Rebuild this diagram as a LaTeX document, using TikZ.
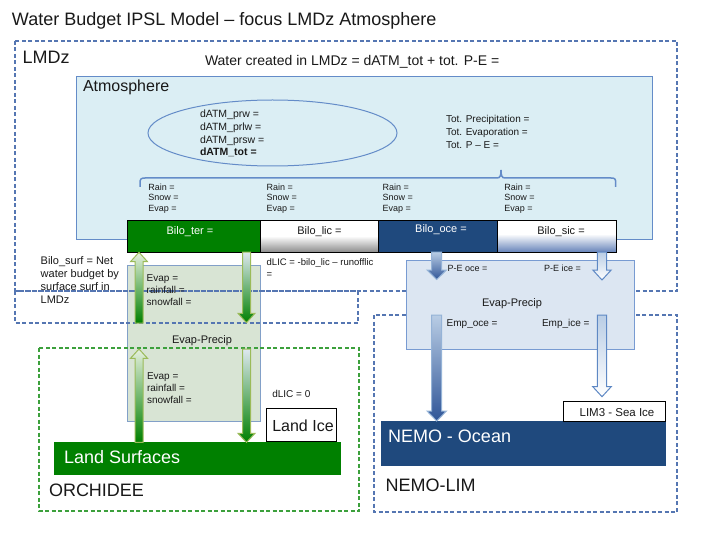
\documentclass[tikz,border=0pt]{standalone}
\usepackage{fontspec}
\setmainfont{Liberation Sans}
\usetikzlibrary{shapes.geometric}
\definecolor{dashblue}{RGB}{85,118,178}
\definecolor{atmfill}{RGB}{219,238,244}
\definecolor{atmline}{RGB}{100,140,200}
\definecolor{lgreen}{RGB}{0,128,0}
\definecolor{dblue}{RGB}{31,73,125}
\definecolor{epgreen}{RGB}{216,228,212}
\definecolor{epgline}{RGB}{130,160,200}
\definecolor{epblue}{RGB}{220,230,242}
\definecolor{epbline}{RGB}{120,155,210}
\definecolor{orchgreen}{RGB}{60,160,60}
\definecolor{arrgline}{RGB}{155,187,89}
\definecolor{arrgtop}{RGB}{230,240,222}
\definecolor{arrgtopb}{RGB}{222,232,240}
\definecolor{arrbline}{RGB}{149,179,215}
\definecolor{arrbtop}{RGB}{185,205,229}
\definecolor{arrbbot}{RGB}{47,85,151}
\definecolor{arrice}{RGB}{94,136,196}
\definecolor{txt}{RGB}{25,25,25}
\newcommand\blockarrow[7]{\path[#7] ({#1-#5},#2) -- ({#1-#5},#3) -- ({#1-#6},#3) -- (#1,#4) -- ({#1+#6},#3) -- ({#1+#5},#3) -- ({#1+#5},#2) -- cycle;}
\newcommand\fsz[1]{\fontsize{#1}{#1}\selectfont}
\begin{document}
\begin{tikzpicture}[x=1pt,y=-1pt,
  every node/.style={inner sep=0pt, outer sep=0pt, text=txt},
  tl/.style={anchor=base west},
  dashbox/.style={draw=dashblue, line width=1.2, dash pattern=on 4pt off 2.5pt},
  greenarrow/.style={draw=arrgline, line width=1, top color=arrgtop, bottom color=lgreen},
  greenarrowd/.style={draw=arrgline, line width=1, top color=arrgtopb, bottom color=lgreen},
  oceanarrow/.style={draw=arrbline, line width=1, top color=arrbtop, bottom color=arrbbot},
  icearrow/.style={draw=arrice, line width=1, top color=arrbtop, bottom color=white},
  bilobox/.style={draw=black, line width=1, minimum width=#1, minimum height=31, anchor=north west}]
\useasboundingbox[fill=white] (0,0) rectangle (720,540);

% title
\node[tl, font=\fsz{18}] (title) at (12,26) {Water Budget IPSL Model – focus LMDz Atmosphere};

% green Evap-Precip box (under the dashed lines)
\node[draw=epgline, fill=epgreen, line width=1, minimum width=133, minimum height=156, anchor=north west] (epg) at (127,265) {};

% LMDz dashed frame
\draw[dashbox] (15,41) rectangle (677,291);
\draw[dashbox] (15,291) rectangle (358,323);
\node[tl, font=\fsz{18}] (lmdz) at (22.7,63.3) {LMDz};
\node[tl, font=\fsz{14}] (created) at (205,66) {Water created in LMDz = dATM\_tot + tot. P-E =};

% Atmosphere
\node[draw=atmline, fill=atmfill, line width=1, minimum width=576, minimum height=162, anchor=north west] (atm) at (76,77) {};
\node[tl, font=\fsz{16}] (atmlabel) at (83,92) {Atmosphere};
\node[draw=atmline, ellipse, line width=1, minimum width=249, minimum height=66] (ell) at (272.5,133) {};
\foreach \t [count=\i from 0] in {dATM\_prw =, dATM\_prlw =, dATM\_prsw =, \textbf{dATM\_tot =}}
  \node[tl, font=\fsz{10.5}] (ellt\i) at (200,{117.3+12.9*\i}) {\t};
\foreach \t [count=\i from 0] in {Tot. Precipitation =, Tot. Evaporation =, Tot. P – E =}
  \node[tl, font=\fsz{10}] (tot\i) at (446,{122.7+12.8*\i}) {\t};
\draw[atmline, line width=1.5] (140,187) -- (140,183) .. controls (140,179) and (141,178) .. (145,178)
  -- (497,178) .. controls (500,178) and (501,176) .. (501,170) .. controls (501,176) and (502,178) .. (505,178)
  -- (611,178) .. controls (615,178) and (615.7,179) .. (615.7,183) -- (615.7,187);
\foreach \x [count=\j] in {148.3,266.7,382.7,504.3}
  \foreach \t [count=\i from 0] in {Rain =, Snow =, Evap =}
    \node[tl, font=\fsz{9}] (rse\j\i) at (\x,{190.5+10.5*\i}) {\t};

% Bilo boxes
\node[bilobox=133, fill=lgreen] (biloter) at (127,221) {};
\fill[white] (260,221) rectangle (378,252);
\shade[top color=white, bottom color=black!45] (260,236) rectangle (378,252);
\node[bilobox=118] (bilolic) at (260,221) {};
\node[bilobox=119, fill=dblue] (bilooce) at (378,221) {};
\fill[white] (497,221) rectangle (616,252);
\shade[top color=white, bottom color=dashblue!90] (497,234) rectangle (616,252);
\node[bilobox=119] (bilosic) at (497,221) {};
\node[anchor=base, font=\fsz{11}, text=white] (tter) at (190,235) {Bilo\_ter =};
\node[anchor=base, font=\fsz{11}] (tlic) at (319.5,234) {Bilo\_lic =};
\node[anchor=base, font=\fsz{11}, text=white] (toce) at (441,232.3) {Bilo\_oce =};
\node[anchor=base, font=\fsz{11}] (tsic) at (561,235) {Bilo\_sic =};

% Bilo_surf and dLIC
\foreach \t [count=\i from 0] in {Bilo\_surf = Net, water budget by, surface surf in, LMDz}
  \node[tl, font=\fsz{11}] (bs\i) at (40.7,{264.3+13*\i}) {\t};
\node[tl, font=\fsz{9.5}] (dlic0) at (266.7,265) {dLIC = -bilo\_lic – runofflic};
\node[tl, font=\fsz{9.5}] (dlic1) at (266.7,277) {=};

% texts in green box
\foreach \t [count=\i from 0] in {Evap =, rainfall =, snowfall =}
  \node[tl, font=\fsz{10}] (eu\i) at (146.7,{281.7+12.1*\i}) {\t};
\foreach \t [count=\i from 0] in {Evap =, rainfall =, snowfall =}
  \node[tl, font=\fsz{10}] (el\i) at (147,{379.3+12*\i}) {\t};
\node[anchor=base, font=\fsz{11}] (epgl) at (202,343.3) {Evap-Precip};

% ORCHIDEE
\draw[dashbox, draw=orchgreen] (39,348) rectangle (359,511);
\node[fill=lgreen, minimum width=287, minimum height=33, anchor=north west] (land) at (54,442) {};
\node[tl, font=\fsz{18}, text=white] (landt) at (64,463.3) {Land Surfaces};
\node[draw=black, fill=white, line width=1, minimum width=70, minimum height=33, anchor=north west] (landice) at (266,408) {};
\node[tl, font=\fsz{16}] (landicet) at (272.3,431) {Land Ice};
\node[tl, font=\fsz{10}] (dlic0b) at (272.3,397.7) {dLIC = 0};
\node[tl, font=\fsz{18}] (orch) at (49,496.7) {ORCHIDEE};

% NEMO-LIM
\draw[dashbox] (374,315) rectangle (677,512);
\node[draw=epbline, fill=epblue, line width=1, minimum width=228, minimum height=89, anchor=north west] (epb) at (406,260) {};
\node[tl, font=\fsz{9}] (peoce) at (447.7,271.7) {P-E oce =};
\node[tl, font=\fsz{9}] (peice) at (544,271.7) {P-E ice =};
\node[anchor=base, font=\fsz{11}] (epbl) at (512,306) {Evap-Precip};
\node[tl, font=\fsz{10}] (empoce) at (446.7,326.7) {Emp\_oce =};
\node[tl, font=\fsz{10}] (empice) at (542,326.7) {Emp\_ice =};
\node[fill=dblue, minimum width=285, minimum height=45, anchor=north west] (nemo) at (381,421) {};
\node[tl, font=\fsz{18}, text=white] (nemot) at (388,442.7) {NEMO - Ocean};
\node[draw=black, fill=white, line width=1, minimum width=102, minimum height=20, anchor=north west] (lim) at (563,401) {};
\node[anchor=base, font=\fsz{11.5}] (limt) at (617,416) {LIM3 - Sea Ice};
\node[tl, font=\fsz{18}] (nemolim) at (385.7,491.7) {NEMO-LIM};

% block arrows
\blockarrow{139}{323}{261.7}{252.3}{4}{8.5}{greenarrow}
\blockarrow{246.5}{252}{313.3}{322.7}{4}{8.5}{greenarrowd}
\blockarrow{139}{442.3}{358.3}{349}{4}{8.5}{greenarrow}
\blockarrow{246.5}{349}{433.3}{442.3}{4}{8.5}{greenarrowd}
\blockarrow{436.7}{252}{270}{279.5}{5}{9.7}{oceanarrow}
\blockarrow{436.7}{315}{411}{421}{5}{9.7}{oceanarrow}
\blockarrow{602}{252}{270}{280}{4.7}{9.2}{icearrow}
\blockarrow{602}{315}{386.7}{396.7}{4.7}{9.2}{icearrow}
\end{tikzpicture}
\end{document}
